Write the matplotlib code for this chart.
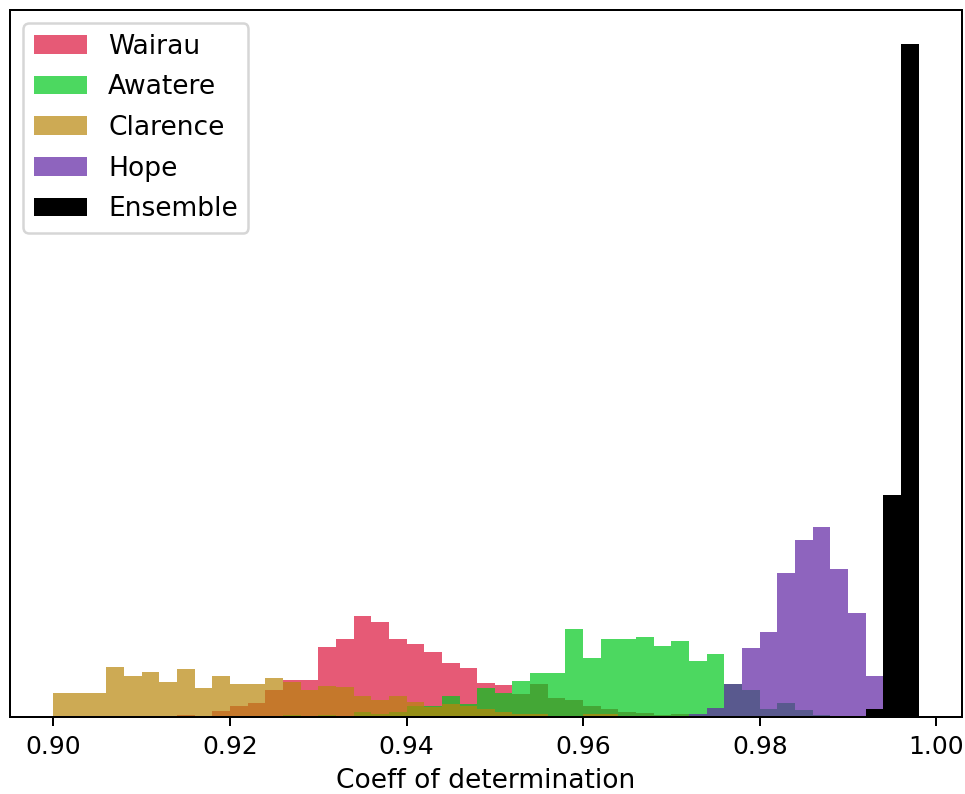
import numpy as np
import matplotlib
matplotlib.use("Agg")
from matplotlib.pyplot import subplots

# shared bin edges, 0.900 .. 0.998 in steps of 0.002
bin_edges = np.linspace(0.9, 0.998, 50)

# counts per bin
wairau = [0, 0, 0, 0, 0, 0, 0, 2, 0, 6,
          11, 14, 27, 37, 37, 70, 78, 101, 95, 78,
          73, 65, 54, 49, 34, 32, 23, 33, 19, 17,
          11, 8, 5, 4, 2, 3, 0, 0, 0, 0,
          0, 0, 0, 0, 0, 0, 0, 0, 0]
awatere = [0, 0, 0, 0, 0, 0, 0, 0, 0, 0,
           0, 0, 0, 2, 0, 2, 1, 5, 3, 5,
           11, 11, 21, 13, 29, 24, 36, 44, 44, 88,
           59, 78, 78, 80, 71, 76, 56, 63, 33, 27,
           8, 14, 7, 2, 0, 0, 0, 0, 0]
clarence = [24, 24, 24, 50, 41, 45, 35, 48, 29, 41,
            33, 33, 39, 35, 27, 31, 30, 21, 17, 21,
            15, 10, 13, 11, 8, 5, 3, 3, 1, 0,
            3, 3, 0, 0, 0, 0, 0, 0, 0, 0,
            0, 0, 0, 0, 0, 0, 0, 0, 0]
hope = [0] * 36 + [3, 9, 33, 69, 85, 144, 177, 190, 148, 104, 41, 0, 0]
ensemble = [0] * 46 + [8, 223, 675]

series = [
    ("Wairau", wairau, "crimson", 0.7),
    ("Awatere", awatere, "#00c81c", 0.7),
    ("Clarence", clarence, "darkgoldenrod", 0.7),
    ("Hope", hope, "#5f23a3", 0.7),
    ("Ensemble", ensemble, "black", 1.0),
]


def main():
    fig, ax = subplots(figsize=(966 / 180, 794 / 180), dpi=180)
    ax.set_position([10 / 966, 77 / 794, 952 / 966, 707 / 794])

    for name, counts, colour, alpha in series:
        ax.hist(bin_edges[:-1], bins=bin_edges, weights=counts,
                histtype="stepfilled", color=colour, alpha=alpha, label=name)

    ax.set_xticks([0.90, 0.92, 0.94, 0.96, 0.98, 1.00])
    ax.set_yticks([])
    ax.set_xlabel("Coeff of determination", fontsize=10.6)
    ax.legend(loc="upper left", fontsize=10.6, labelspacing=0.55)

    fig.savefig("out.png", dpi=180)


if __name__ == "__main__":
    main()
